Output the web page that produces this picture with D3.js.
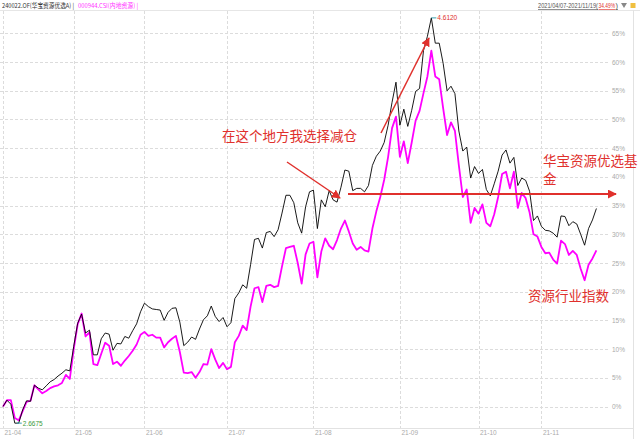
<!DOCTYPE html>
<html>
<head>
<meta charset="utf-8">
<script src="https://cdn.jsdelivr.net/npm/d3@7"></script>
<style>
  html, body { margin: 0; padding: 0; background: #fff; }
  svg { display: block; font-family: "Noto Sans CJK SC", "Noto Sans", sans-serif; }
</style>
</head>
<body>
<svg id="chart" width="640" height="439"></svg>
<script>
// fund (black) and index (magenta) cumulative return in %, one value per trading day from 2021/04/07
var fundPct = [
  0, 1.1, 0.4, -2.9, -2.9, -0.6, 1.0, 0.9, 3.7, 3.2,
  2.9, 3.6, 4.3, 4.7, 5.3, 5.8, 6.4, 6.2, 10.5, 14.5,
  16.1, 12.8, 13.3, 9.0, 9.0, 11.8, 12.8, 12.6, 9.8, 11.0,
  10.9, 12.2, 11.9, 13.2, 14.4, 16.5, 18.0, 17.4, 17.0, 16.9,
  16.8, 15.0, 16.4, 17.1, 17.2, 14.7, 10.6, 11.2, 12.1, 11.7,
  13.5, 15.1, 15.8, 17.5, 15.7, 14.8, 15.5, 13.9, 14.6, 18.8,
  19.8, 21.2, 20.6, 24.7, 29.1, 29.3, 27.6, 30.3, 30.5, 29.6,
  30.8, 33.7, 36.8, 36.8, 35.5, 32.0, 30.2, 34.8, 37.4, 37.7,
  31.0, 36.0, 34.8, 37.6, 36.0, 35.6, 38.2, 41.2, 41.0, 37.6,
  38.0, 38.0, 37.4, 38.5, 42.0, 43.6, 44.5, 46.0, 49.0, 53.0,
  56.5, 49.0, 51.8, 48.8, 51.6, 54.9, 55.4, 62.0, 64.5, 67.7,
  63.3, 63.3, 59.8, 55.0, 55.8, 54.5, 48.0, 44.5, 45.2, 39.8,
  41.8, 40.6, 41.3, 37.8, 36.7, 38.8, 41.0, 43.8, 44.7, 42.4,
  43.4, 38.5, 39.8, 39.4, 37.5, 32.4, 33.2, 31.4, 30.7, 30.6,
  30.2, 29.5, 33.2, 33.1, 31.5, 32.2, 31.8, 30.0, 28.1, 31.0,
  32.5, 34.5
];
var indexPct = [
  0, 1.1, 1.1, -2.0, -2.4, -0.8, 0.8, 1.0, 3.7, 3.0,
  2.3, 2.7, 3.2, 3.5, 3.7, 4.1, 5.5, 4.8, 10.0, 14.3,
  16.2, 12.2, 12.9, 7.4, 7.2, 9.2, 11.1, 10.6, 7.4, 7.8,
  7.1, 8.0, 8.8, 9.7, 10.8, 12.5, 13.0, 12.3, 12.5, 12.0,
  12.0, 10.3, 11.2, 11.8, 12.3, 9.5, 5.9, 5.8, 6.0, 5.0,
  6.0, 7.4, 7.3, 10.0, 8.2, 6.7, 7.6, 6.5, 6.9, 11.2,
  12.3, 14.1, 13.3, 17.4, 20.6, 20.8, 18.2, 21.0, 21.2, 20.8,
  21.0, 24.4, 27.6, 27.8, 28.0, 25.0, 21.4, 26.5, 28.4, 28.7,
  22.5, 27.0, 29.3, 28.0, 27.4, 29.0, 31.0, 32.4, 30.5, 28.4,
  27.3, 27.8, 27.2, 27.0, 31.0, 34.0, 36.5, 39.5, 43.5, 48.5,
  50.5, 43.5, 46.2, 42.4, 46.0, 49.8, 51.5, 54.6, 57.5, 62.0,
  57.5, 57.0, 52.0, 47.3, 49.5, 48.0, 42.0, 36.5, 37.8, 32.0,
  34.6, 33.6, 35.2, 32.0, 31.4, 33.5, 36.5, 40.5, 40.9, 38.0,
  40.9, 34.6, 37.2, 36.3, 33.8, 30.0, 29.6, 27.8, 26.7, 26.8,
  25.6, 24.9, 28.9, 28.3, 26.4, 27.1, 26.4, 24.0, 22.0, 24.7,
  25.8, 27.2
];
// first trading day of each month (index into the arrays above)
var monthIdx = [0, 18, 36, 57, 79, 101, 121, 137];
var monthLabels = ["21-04", "21-05", "21-06", "21-07", "21-08", "21-09", "21-10", "21-11"];
var pctTicks = [0, 5, 10, 15, 20, 25, 30, 35, 40, 45, 50, 55, 60, 65];
var navMin = "2.6675";
var navMax = "4.6120";

var svg = d3.select("#chart");
var red = "#e0302c";
var small = "Liberation Sans, Arial, sans-serif";

var x = d3.scaleLinear().domain([0, fundPct.length - 1]).range([3, 596.4]);
var y = d3.scaleLinear().domain([0, 65]).range([406.5, 33.4]);

// frame lines
svg.append("line").attr("x1", 0).attr("x2", 640).attr("y1", 10.5).attr("y2", 10.5)
  .style("stroke", "#e6e6e6");
svg.append("line").attr("x1", 0).attr("x2", 633).attr("y1", 428.5).attr("y2", 428.5)
  .style("stroke", "#e2e2e2");
svg.append("line").attr("x1", 633.5).attr("x2", 633.5).attr("y1", 10).attr("y2", 439)
  .style("stroke", "#e2e2e2");

// horizontal grid + right labels
var yAxis = d3.axisRight(y).tickValues(pctTicks).tickSize(0).tickPadding(0)
  .tickFormat(function (d) { return d + "%"; });
var gy = svg.append("g").attr("transform", "translate(612,0)").call(yAxis);
gy.select(".domain").remove();
gy.selectAll("text").attr("font-size", "6.5px").attr("fill", "#aaa")
  .attr("font-family", small);
svg.append("g").selectAll("line").data(pctTicks).enter().append("line")
  .attr("x1", 0).attr("x2", 609)
  .attr("y1", function (d) { return Math.round(y(d)) + 0.5; })
  .attr("y2", function (d) { return Math.round(y(d)) + 0.5; })
  .style("stroke", "#dcdcdc").style("stroke-dasharray", "3,2");

// vertical grid + month labels
svg.append("g").selectAll("line").data(monthIdx).enter().append("line")
  .attr("x1", function (d) { return Math.round(x(d)) + 0.5; })
  .attr("x2", function (d) { return Math.round(x(d)) + 0.5; })
  .attr("y1", 11).attr("y2", 428)
  .style("stroke", "#dcdcdc").style("stroke-dasharray", "3,2");
var xAxis = d3.axisBottom(x).tickValues(monthIdx).tickSize(0).tickPadding(0)
  .tickFormat(function (d, i) { return monthLabels[i]; });
var gx = svg.append("g").attr("transform", "translate(0,430)").call(xAxis);
gx.select(".domain").remove();
gx.selectAll("text").attr("font-size", "6.5px").attr("fill", "#aaa")
  .attr("text-anchor", "start").attr("dx", "1")
  .attr("font-family", small);

// series lines
var line = d3.line()
  .x(function (d, i) { return x(i); })
  .y(function (d) { return y(d); });
svg.append("path").datum(indexPct).attr("d", line)
  .style("fill", "none").style("stroke", "#ff00ff").style("stroke-width", 1.8)
  .style("stroke-linejoin", "round");
svg.append("path").datum(fundPct).attr("d", line)
  .style("fill", "none").style("stroke", "#000").style("stroke-width", 0.9);

// min / max nav markers
var iMin = d3.minIndex(fundPct), iMax = d3.maxIndex(fundPct);
svg.append("line").attr("x1", x(iMin) + 2).attr("x2", x(iMin) + 7)
  .attr("y1", y(fundPct[iMin])).attr("y2", y(fundPct[iMin]))
  .style("stroke", "#37a0b0");
svg.append("text").attr("x", x(iMin) + 8).attr("y", y(fundPct[iMin]) + 2.5)
  .text(navMin).attr("font-size", "6.5px").attr("fill", "#3a9a3a")
  .attr("font-family", small);
svg.append("line").attr("x1", x(iMax)).attr("x2", x(iMax) + 5)
  .attr("y1", y(fundPct[iMax])).attr("y2", y(fundPct[iMax]))
  .style("stroke", "#37a0b0");
svg.append("text").attr("x", x(iMax) + 6).attr("y", y(fundPct[iMax]) + 2.5)
  .text(navMax).attr("font-size", "6.5px").attr("fill", red)
  .attr("font-family", small);

// header
svg.append("text").attr("x", 2).attr("y", 8).attr("font-size", "6.5px")
  .attr("fill", "#333").attr("textLength", 72).attr("lengthAdjust", "spacingAndGlyphs")
  .text("240022.OF(华宝资源优选A) |");
svg.append("text").attr("x", 78).attr("y", 8).attr("font-size", "6.5px")
  .attr("fill", "#ff33ff").attr("textLength", 60).attr("lengthAdjust", "spacingAndGlyphs")
  .text("000944.CSI(内地资源) |");

function headPart(tx, len, s, col) {
  svg.append("text").attr("x", tx).attr("y", 8).attr("font-size", "6.5px")
    .attr("font-family", small).attr("fill", col).attr("text-decoration", "underline")
    .attr("textLength", len).attr("lengthAdjust", "spacingAndGlyphs").text(s);
}
headPart(538, 60, "2021/04/07-2021/11/19(", "#555");
headPart(598.5, 16.5, "34.49%", red);
headPart(615.5, 2.5, ")", "#555");
svg.append("path").attr("d", "M621,3 L627,3 L624,8 Z").style("fill", "#888");
svg.append("rect").attr("x", 630.5).attr("y", 3).attr("width", 5).attr("height", 5)
  .style("fill", "#f0c040");

// annotations
svg.append("defs").append("marker").attr("id", "ah").attr("viewBox", "0 0 10 10")
  .attr("refX", 9).attr("refY", 5).attr("markerWidth", 9).attr("markerHeight", 9)
  .attr("markerUnits", "userSpaceOnUse").attr("orient", "auto")
  .append("path").attr("d", "M0,0 L10,5 L0,10 Z").style("fill", red);

function arrow(x1, y1, x2, y2, w) {
  svg.append("line").attr("x1", x1).attr("y1", y1).attr("x2", x2).attr("y2", y2)
    .style("stroke", red).style("stroke-width", w).attr("marker-end", "url(#ah)");
}
arrow(287, 162, 340, 198, 1.5);
arrow(381, 133, 429, 38, 1.5);
arrow(348, 194, 616, 194, 2);

function note(tx, ty, s) {
  svg.append("text").attr("x", tx).attr("y", ty).text(s)
    .attr("font-size", "13.5px").attr("fill", red);
}
note(222, 141, "在这个地方我选择减仓");
note(543, 166, "华宝资源优选基");
note(543, 184, "金");
note(528, 301, "资源行业指数");
</script>
</body>
</html>
